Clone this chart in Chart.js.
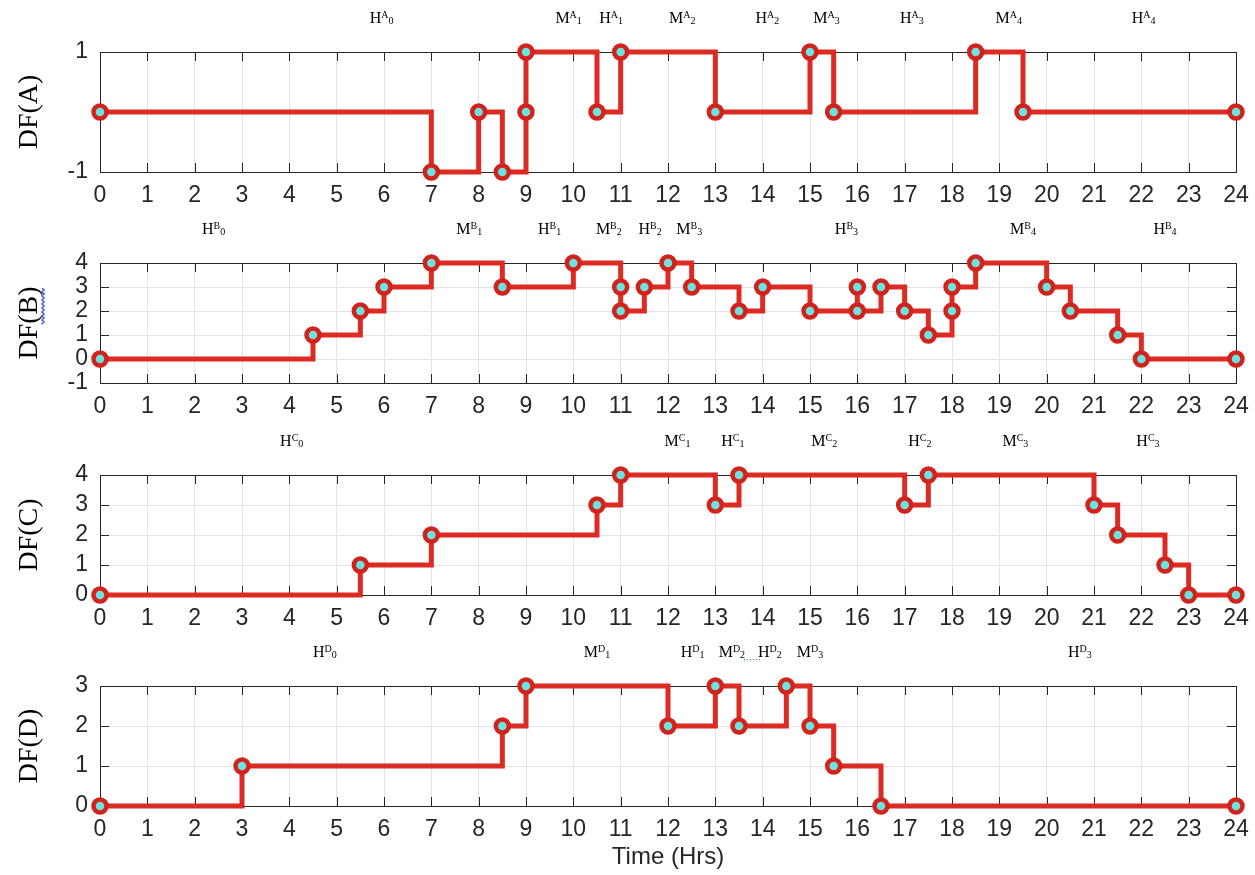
<!doctype html>
<html lang="en">
<head>
<meta charset="utf-8">
<title>DF step charts</title>
<script src="https://cdn.jsdelivr.net/npm/chart.js@4.4.0/dist/chart.umd.min.js"></script>
<style>
  body { margin: 0; background: #fff; }
  #wrap { position: relative; width: 1255px; height: 875px; overflow: hidden; }
  .panel { position: absolute; left: 0; }
</style>
</head>
<body>
<div id="wrap">
  <div class="panel" style="top:0px"><canvas id="dfA" width="1255" height="212"></canvas></div>
  <div class="panel" style="top:211px"><canvas id="dfB" width="1255" height="212"></canvas></div>
  <div class="panel" style="top:423px"><canvas id="dfC" width="1255" height="212"></canvas></div>
  <div class="panel" style="top:634px"><canvas id="dfD" width="1255" height="242"></canvas></div>
</div>
<script>
// ---- data (hours, DF value) ----
const timeA = [0, 7, 8, 8.5, 9, 9, 10.5, 11, 13, 15, 15.5, 18.5, 19.5, 24];
const dfA   = [0, -1, 0, -1, 0, 1, 0, 1, 0, 1, 0, 1, 0, 0];

const timeB = [0, 4.5, 5.5, 6, 7, 8.5, 10, 11, 11, 11.5, 12, 12.5, 13.5, 14, 15, 16, 16, 16.5, 17, 17.5, 18, 18, 18.5, 20, 20.5, 21.5, 22, 24];
const dfB   = [0, 1, 2, 3, 4, 3, 4, 3, 2, 3, 4, 3, 2, 3, 2, 3, 2, 3, 2, 1, 2, 3, 4, 3, 2, 1, 0, 0];

const timeC = [0, 5.5, 7, 10.5, 11, 13, 13.5, 17, 17.5, 21, 21.5, 22.5, 23, 24];
const dfC   = [0, 1, 2, 3, 4, 3, 4, 3, 4, 3, 2, 1, 0, 0];

const timeD = [0, 3, 8.5, 9, 12, 13, 13.5, 14.5, 15, 15.5, 16.5, 24];
const dfD   = [0, 1, 2, 3, 2, 3, 2, 3, 2, 1, 0, 0];

// y tick labels per panel
const yTicksA = [-1, 1];
const yTicksB = [-1, 0, 1, 2, 3, 4];
const yTicksC = [0, 1, 2, 3, 4];
const yTicksD = [0, 1, 2, 3];

// phase labels above each panel (letter + index), placed at hour
const phaseA = ['H0', 'M1', 'H1', 'M2', 'H2', 'M3', 'H3', 'M4', 'H4'];
const phaseAt = [5.95, 9.9, 10.8, 12.3, 14.1, 15.35, 17.15, 19.2, 22.05];
const phaseB = ['H0', 'M1', 'H1', 'M2', 'H2', 'M3', 'H3', 'M4', 'H4'];
const phaseBt = [2.4, 7.8, 9.5, 10.75, 11.62, 12.45, 15.77, 19.5, 22.5];
const phaseC = ['H0', 'M1', 'H1', 'M2', 'H2', 'M3', 'H3'];
const phaseCt = [4.05, 12.2, 13.37, 15.3, 17.32, 19.34, 22.14];
const phaseD = ['H0', 'M1', 'H1', 'M2', 'H2', 'M3', 'H3'];
const phaseDt = [4.75, 10.5, 12.52, 13.35, 14.15, 15.0, 20.7];

const hourMin = 0, hourMax = 24;

const RED = '#dc2b23';
const INK = '#262626';

// box, inward ticks, y title and phase labels
const decor = {
  id: 'decor',
  beforeDatasetsDraw(chart, args, o) {
    const {ctx, chartArea: a, scales: {x, y}} = chart;
    ctx.save();
    ctx.strokeStyle = INK;
    ctx.lineWidth = 1;
    ctx.strokeRect(a.left + 0.5, a.top + 0.5, a.right - a.left, a.bottom - a.top);
    ctx.beginPath();
    x.ticks.forEach(t => {
      const px = Math.round(x.getPixelForValue(t.value)) + 0.5;
      ctx.moveTo(px, a.bottom); ctx.lineTo(px, a.bottom - 9);
      ctx.moveTo(px, a.top); ctx.lineTo(px, a.top + 9);
    });
    y.ticks.forEach(t => {
      const py = Math.round(y.getPixelForValue(t.value)) + 0.5;
      ctx.moveTo(a.left, py); ctx.lineTo(a.left + 9, py);
      ctx.moveTo(a.right, py); ctx.lineTo(a.right - 9, py);
    });
    ctx.stroke();
    ctx.restore();
  },
  afterDraw(chart, args, o) {
    const {ctx, chartArea: a, scales: {x}} = chart;
    ctx.save();
    // y title
    ctx.translate(30, (a.top + a.bottom) / 2);
    ctx.rotate(-Math.PI / 2);
    ctx.fillStyle = '#000';
    ctx.font = '28px "Liberation Serif"';
    ctx.textAlign = 'center';
    ctx.textBaseline = 'middle';
    ctx.fillText(o.title, 0, 0);
    if (o.squiggle) {
      // blue spell-check wave under "B)"
      const w = ctx.measureText(o.title).width;
      ctx.strokeStyle = '#3b5bd6';
      ctx.lineWidth = 1.3;
      ctx.beginPath();
      for (let i = 0; i <= 36; i++) {
        const sx = w / 2 - 38 + i;
        const sy = 12 + (i % 4 < 2 ? 0 : 2);
        i ? ctx.lineTo(sx, sy) : ctx.moveTo(sx, sy);
      }
      ctx.stroke();
    }
    ctx.restore();

    // phase labels
    ctx.save();
    ctx.fillStyle = '#000';
    ctx.textBaseline = 'alphabetic';
    const base = a.top - 29;
    o.labels.forEach((lab, i) => {
      const main = lab[0], sub = lab.slice(1);
      ctx.font = '16px "Liberation Serif"';
      const wMain = ctx.measureText(main).width;
      ctx.font = '10px "Liberation Serif"';
      const wSup = ctx.measureText(o.letter).width;
      const wSub = ctx.measureText(sub).width;
      const total = wMain + wSup + wSub;
      let cx = x.getPixelForValue(o.at[i]) - total / 2;
      ctx.font = '16px "Liberation Serif"';
      ctx.fillText(main, cx, base);
      cx += wMain;
      ctx.font = '10px "Liberation Serif"';
      ctx.fillText(o.letter, cx, base - 5);
      cx += wSup;
      ctx.fillText(sub, cx, base + 1);
    });
    if (o.dots) {
      const p1 = x.getPixelForValue(o.at[o.dots[0]]);
      const p2 = x.getPixelForValue(o.at[o.dots[1]]);
      ctx.fillStyle = '#5577cc';
      for (let px = p1 + 12; px < p2 - 10; px += 3) ctx.fillRect(px, base + 2, 1.2, 1.2);
    }
    ctx.restore();
  }
};

function panel(id, times, values, yMin, yMax, yTicks, title, letter, labels, at, extra) {
  extra = extra || {};
  const pts = times.map((t, i) => ({x: t, y: values[i]}));
  return new Chart(document.getElementById(id), {
    type: 'line',
    data: {
      datasets: [{
        data: pts,
        stepped: true,
        borderColor: RED,
        borderWidth: 5,
        pointRadius: 6.5,
        pointBorderWidth: 4.5,
        pointBackgroundColor: '#6de3e0',
        pointBorderColor: '#d2221c',
        clip: false
      }]
    },
    options: {
      responsive: false,
      animation: false,
      layout: {padding: {top: 52, right: 19, left: 0, bottom: 0}},
      plugins: {
        legend: {display: false},
        tooltip: {enabled: false},
        decor: {title: title, letter: letter, labels: labels, at: at, squiggle: extra.squiggle, dots: extra.dots}
      },
      scales: {
        x: {
          type: 'linear',
          min: hourMin, max: hourMax,
          afterFit: s => {
            s.height = extra.xTitle ? 70 : 40;
            s.paddingLeft = 0;
            s.paddingRight = 0;
          },
          grid: {color: '#e4e4e4', drawTicks: false},
          border: {display: false},
          ticks: {stepSize: 1, autoSkip: false, maxRotation: 0, padding: 10, color: INK,
                  font: {family: 'Liberation Sans', size: 23}},
          title: {display: !!extra.xTitle, text: extra.xTitle || '', color: INK,
                  font: {family: 'Liberation Sans', size: 24}, padding: {top: 0, bottom: 4}}
        },
        y: {
          min: yMin, max: yMax,
          afterFit: s => { s.width = 100; s.paddingTop = 0; s.paddingBottom = 0; },
          afterBuildTicks: s => { s.ticks = yTicks.map(v => ({value: v})); },
          grid: {color: '#e4e4e4', drawTicks: false},
          border: {display: false},
          ticks: {autoSkip: false, padding: 12, color: INK,
                  font: {family: 'Liberation Sans', size: 23}}
        }
      }
    },
    plugins: [decor]
  });
}

panel('dfA', timeA, dfA, -1, 1, yTicksA, 'DF(A)', 'A', phaseA, phaseAt);
panel('dfB', timeB, dfB, -1, 4, yTicksB, 'DF(B)', 'B', phaseB, phaseBt, {squiggle: true});
panel('dfC', timeC, dfC, 0, 4, yTicksC, 'DF(C)', 'C', phaseC, phaseCt);
panel('dfD', timeD, dfD, 0, 3, yTicksD, 'DF(D)', 'D', phaseD, phaseDt, {xTitle: 'Time (Hrs)', dots: [3, 4]});
</script>
</body>
</html>
